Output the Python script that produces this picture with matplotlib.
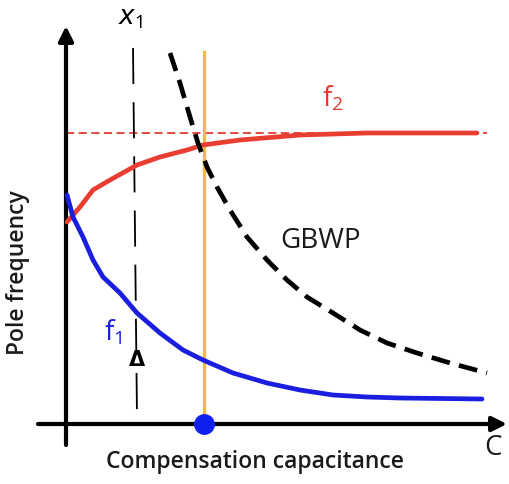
import matplotlib
matplotlib.use("Agg")
import matplotlib.pyplot as plt

plt.rcParams['font.family'] = ['Open Sans', 'DejaVu Sans']
plt.rcParams['mathtext.fontset'] = 'custom'
plt.rcParams['mathtext.rm'] = 'Open Sans'

# Compensation capacitance (arbitrary units) and pole frequencies
c_f2 = [1, 14, 27, 44, 71, 94, 121, 137, 174, 234, 301, 411]
f2 = [202, 217, 234, 244, 259, 267, 274, 279, 284, 289, 291, 291]
f2_limit = 291

c_f1 = [1, 7, 17, 27, 37, 54, 71, 94, 117, 137, 167, 201, 234, 267, 301,
        334, 416]
f1 = [229, 207, 187, 164, 147, 131, 111, 91, 74, 64, 51, 41, 34, 29, 27,
      26, 25]

c_gbwp = [104, 114, 124, 132, 141, 151, 164, 181, 201, 221, 241, 267, 294,
          321, 351, 384, 421]
gbwp = [371, 341, 307, 281, 257, 237, 214, 187, 164, 144, 127, 111, 94, 81,
        71, 61, 51]

c_x1 = [67, 71]
x1_span = [376, 7]
c_opt = 138
opt_top = 372

fig = plt.figure(figsize=(5.10, 4.84), dpi=100)
ax = fig.add_axes([0, 0, 1, 1])
ax.set_xlim(-66, 444)
ax.set_ylim(-60, 424)
ax.axis('off')

# axes with arrowheads
ax.annotate('', xy=(441, 0), xytext=(-28, 0),
            arrowprops=dict(arrowstyle='-|>', lw=3, color='black',
                            mutation_scale=22, shrinkA=0, shrinkB=0))
ax.annotate('', xy=(0, 398), xytext=(0, -21),
            arrowprops=dict(arrowstyle='-|>', lw=3, color='black',
                            mutation_scale=22, shrinkA=0, shrinkB=0))

# f2 asymptote
ax.plot([0, 421], [f2_limit, f2_limit], color='#e03a30', lw=1.3,
        dashes=(4.5, 2.5))

# hand-drawn x1 marker line
ax.plot(c_x1, x1_span, color='black', lw=1.3, dashes=(20, 10))

# optimum capacitance
ax.plot([c_opt, c_opt], [0, opt_top], color='#f2b84a', lw=2.4, zorder=3)

ax.plot(c_f2, f2, color='#e83e32', lw=3.4, solid_joinstyle='round',
        solid_capstyle='round', zorder=4)
ax.plot(c_f1, f1, color='#1a1ee0', lw=3.4, solid_joinstyle='round',
        solid_capstyle='round', zorder=4)
ax.plot(c_gbwp, gbwp, color='black', lw=3.4, dashes=(4, 2), zorder=5)

ax.plot([c_opt], [0], 'o', color='#1020f0', ms=14, zorder=6)

ax.text(267, 326, r'f$_\mathregular{2}$', color='#e03a30', fontsize=20,
        ha='center', va='center')
ax.text(255, 183, 'GBWP', color='#1a1a1a', fontsize=20, ha='center',
        va='center')
ax.text(47, 92, r'f$_\mathregular{1}$', color='#1a1ee0', fontsize=20,
        ha='center', va='center')
ax.text(64, 406, r'$x_1$', color='black', fontsize=19, ha='center',
        va='center', family='DejaVu Sans')
ax.text(71, 64, 'Δ', color='black', fontsize=15, fontweight='bold',
        ha='center', va='center', family='DejaVu Sans')
ax.text(427, -24, 'C', color='#1a1a1a', fontsize=20, ha='center',
        va='center')
ax.text(189, -38, 'Compensation capacitance', color='#1a1a1a', fontsize=16.5,
        fontweight='semibold', ha='center', va='center')
ax.text(-48, 151, 'Pole frequency', color='#1a1a1a', fontsize=16.5,
        fontweight='semibold', ha='center', va='center', rotation=90)

fig.savefig('out.png', dpi=100)
